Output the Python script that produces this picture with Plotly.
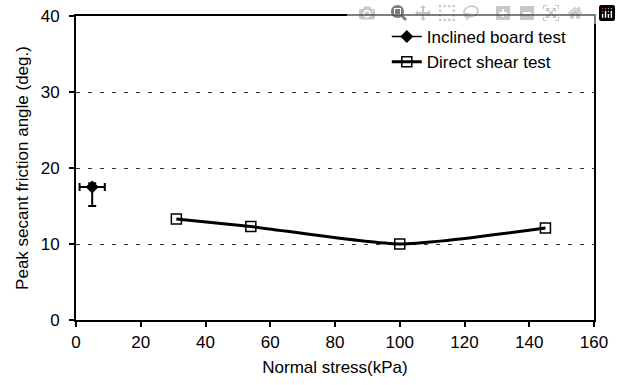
import plotly.graph_objects as go

# Inclined board test
ib_x = [5]
ib_y = [17.5]
ib_err_plus = [0.5]
ib_err_minus = [2.5]
ib_xerr = [3.9]

# Direct shear test
ds_x = [31, 54, 100, 145]
ds_y = [13.3, 12.3, 10.0, 12.1]

x_ticks = [0, 20, 40, 60, 80, 100, 120, 140, 160]
y_ticks = [0, 10, 20, 30, 40]

fnt = "Liberation Sans, Arial, sans-serif"

fig = go.Figure()
fig.add_trace(go.Scatter(
    x=ib_x, y=ib_y, mode="lines+markers", name="Inclined board test",
    marker=dict(symbol="diamond", size=10, color="black"),
    line=dict(color="black", width=1.5),
    error_y=dict(type="data", symmetric=False, array=ib_err_plus, arrayminus=ib_err_minus,
                 color="black", thickness=2, width=4),
    error_x=dict(type="data", array=ib_xerr, color="black", thickness=2, width=4),
))
fig.add_trace(go.Scatter(
    x=ds_x, y=ds_y, mode="lines+markers", name="Direct shear test",
    marker=dict(symbol="square-open", size=10, color="black", line=dict(width=1.5)),
    line=dict(color="black", width=3, shape="spline", smoothing=0.6),
))

fig.update_layout(
    width=621, height=385,
    margin=dict(l=76, r=27, t=16, b=65),
    paper_bgcolor="white", plot_bgcolor="white",
    font=dict(family=fnt, size=17, color="black"),
    showlegend=True,
    legend=dict(x=0.6, y=0.99, xanchor="left", yanchor="top",
                bgcolor="rgba(0,0,0,0)", font=dict(size=17, family=fnt),
                itemwidth=30, tracegroupgap=0),
    xaxis=dict(
        range=[0, 160], tickvals=x_ticks, ticktext=[str(v) for v in x_ticks],
        showline=True, linecolor="black", linewidth=2, mirror=True,
        ticks="outside", ticklen=5, tickcolor="black", tickwidth=1.5,
        ticklabelstandoff=1, automargin=False,
        showgrid=False, zeroline=False,
        title=dict(text="Normal stress(kPa)", font=dict(size=17), standoff=10),
        tickfont=dict(size=17),
    ),
    yaxis=dict(
        range=[0, 40], tickvals=y_ticks, ticktext=[str(v) for v in y_ticks],
        showline=True, linecolor="black", linewidth=2, mirror=True,
        ticks="outside", ticklen=5, tickcolor="black", tickwidth=1.5,
        ticklabelstandoff=6, automargin=False,
        showgrid=True, gridcolor="#333333", griddash="4px,8px", gridwidth=1.2,
        zeroline=False,
        title=dict(text="Peak secant friction angle (deg.)", font=dict(size=17), standoff=8),
        tickfont=dict(size=17),
    ),
)

fig.write_html("out.html", post_script="document.body.style.margin='0';")
